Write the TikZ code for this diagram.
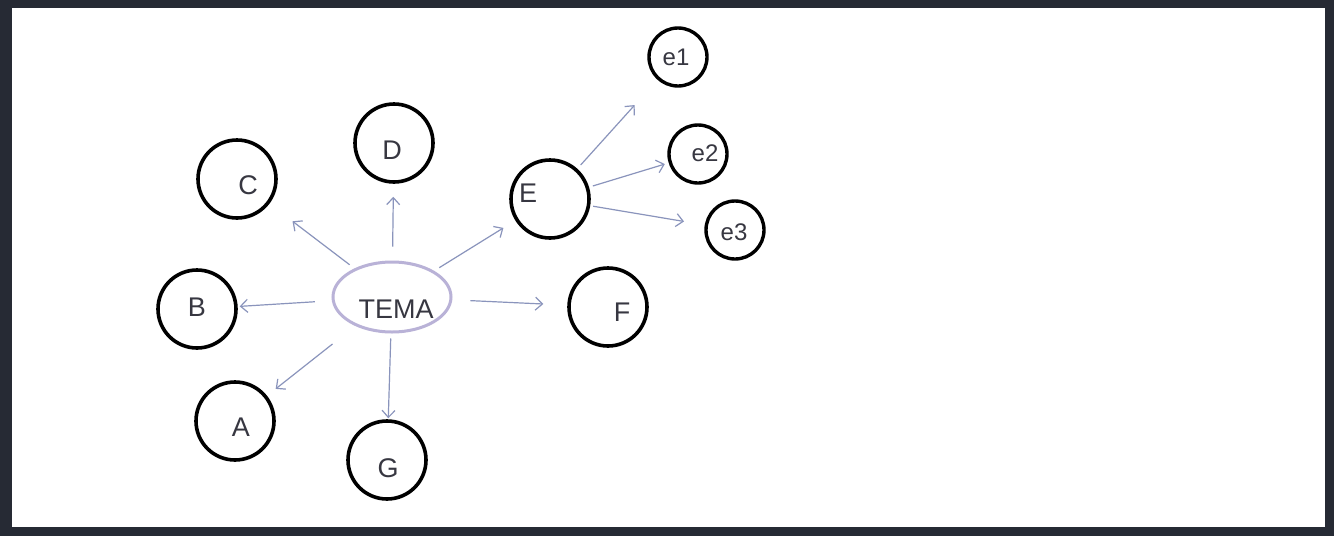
\documentclass[tikz,border=0pt]{standalone}
\usepackage{fontspec}
\setmainfont{Liberation Sans}
\usetikzlibrary{arrows.meta,shapes.geometric}
\definecolor{framec}{RGB}{38,42,52}
\definecolor{arrowc}{RGB}{138,148,188}
\definecolor{temac}{RGB}{185,178,215}
\definecolor{txtc}{RGB}{55,55,65}
\tikzset{
  circ/.style={circle,draw=black,line width=3.6pt,minimum size=78pt,inner sep=0pt},
  smallcirc/.style={circle,draw=black,line width=3.4pt,minimum size=58pt,inner sep=0pt},
  lbl/.style={text=txtc,font=\fontsize{27}{27}\selectfont},
  slbl/.style={text=txtc,font=\fontsize{24}{24}\selectfont},
  temanode/.style={ellipse,draw=temac,line width=3pt,minimum width=118pt,minimum height=70pt,inner sep=0pt},
  arr/.style={draw=arrowc,line width=1.2pt,-{Straight Barb[length=7pt,width=13pt]}}
}
\begin{document}
\begin{tikzpicture}[x=1pt,y=-1pt]
\useasboundingbox (0,0) rectangle (1334,536);
\fill[framec] (0,0) rectangle (1334,536);
\fill[white] (12,8) rectangle (1325,527);
% nodes
\node[temanode] (tema) at (392,297) {};
\node[lbl] (tematxt) at (396,309) {TEMA};
\node[circ] (a) at (235,421) {};
\node[circ] (b) at (197,309) {};
\node[circ] (c) at (237,179) {};
\node[circ] (d) at (394,143) {};
\node[circ] (e) at (550,199) {};
\node[circ] (f) at (608,307) {};
\node[circ] (g) at (387,460) {};
\node[smallcirc] (e1) at (678,57) {};
\node[smallcirc] (e2) at (698,154) {};
\node[smallcirc] (e3) at (735,230) {};
% labels
\node[lbl] (la) at (241,427) {A};
\node[lbl] (lb) at (197,307) {B};
\node[lbl] (lc) at (248,185) {C};
\node[lbl] (ld) at (392,150) {D};
\node[lbl] (le) at (528,193) {E};
\node[lbl] (lf) at (622,312) {F};
\node[lbl] (lg) at (388,468) {G};
\node[slbl] (le1) at (676,57) {e1};
\node[slbl] (le2) at (705,153) {e2};
\node[slbl] (le3) at (734,232) {e3};
% connectors
\draw[arr,shorten <=17pt,shorten >=2pt] (tema) -- (b);
\draw[arr,shorten <=6pt,shorten >=29pt] (tema) -- (c);
\draw[arr,shorten <=14pt,shorten >=13pt] (tema) -- (d);
\draw[arr,shorten <=6pt,shorten >=14pt] (tema) -- (e);
\draw[arr,shorten <=18pt,shorten >=24pt] (tema) -- (f);
\draw[arr,shorten <=29pt,shorten >=11pt] (tema) -- (a);
\draw[arr,shorten <=5pt,shorten >=1pt] (tema) -- (g);
\draw[arr,shorten <=5pt,shorten >=34pt] (e) -- (e1);
\draw[arr,shorten <=4pt,shorten >=4pt] (e) -- (e2);
\draw[arr,shorten <=3pt,shorten >=21pt] (e) -- (e3);
\end{tikzpicture}
\end{document}
